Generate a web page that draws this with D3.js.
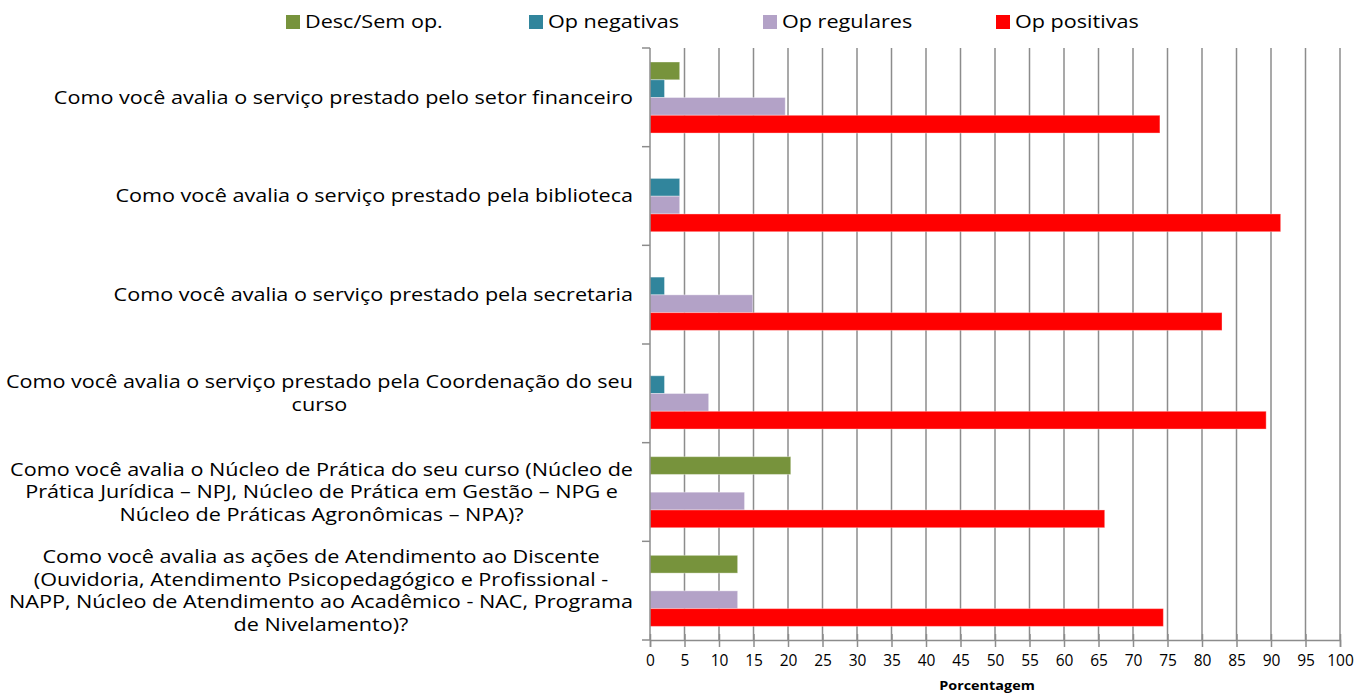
<!DOCTYPE html>
<html>
<head>
<meta charset="utf-8">
<script src="https://cdn.jsdelivr.net/npm/d3@7"></script>
<style>
  body { margin: 0; background: #fff; }
  text { font-family: "Open Sans", sans-serif; fill: #000; }
</style>
</head>
<body>
<svg id="chart"></svg>
<script>
// categories (each one already split into the lines shown on the chart)
const categories = [
  ["Como você avalia o serviço prestado pelo setor financeiro"],
  ["Como você avalia o serviço prestado pela biblioteca"],
  ["Como você avalia o serviço prestado pela secretaria"],
  ["Como você avalia o serviço prestado pela Coordenação do seu", "curso"],
  ["Como você avalia o Núcleo de Prática do seu curso (Núcleo de",
   "Prática Jurídica – NPJ, Núcleo de Prática em Gestão – NPG e",
   "Núcleo de Práticas Agronômicas – NPA)?"],
  ["Como você avalia as ações de Atendimento ao Discente",
   "(Ouvidoria, Atendimento Psicopedagógico e Profissional -",
   "NAPP, Núcleo de Atendimento ao Acadêmico - NAC, Programa",
   "de Nivelamento)?"]
];
const seriesNames = ["Desc/Sem op.", "Op negativas", "Op regulares", "Op positivas"];
const descSemOp   = [4.3, 0, 0, 0, 20.4, 12.7];
const opNegativas = [2.1, 4.3, 2.1, 2.1, 0, 0];
const opRegulares = [19.6, 4.3, 14.9, 8.5, 13.7, 12.7];
const opPositivas = [73.9, 91.4, 82.9, 89.3, 65.9, 74.4];
const xTicks = d3.range(0, 101, 5);
const xTitle = "Porcentagem";

const colors = ["#77933c", "#31859c", "#b3a2c7", "#ff0000"];
const seriesValues = [descSemOp, opNegativas, opRegulares, opPositivas];

const width = 1370, height = 695;
const margin = { top: 48, right: 30, bottom: 55, left: 650 };
const stretch = 1.2; // the original text is drawn a bit wider than normal

const svg = d3.select('#chart')
  .attr('width', width)
  .attr('height', height);

// scales
const x = d3.scaleLinear()
  .domain([0, 100])
  .range([margin.left, width - margin.right]);

const y0 = d3.scaleBand()
  .domain(d3.range(categories.length))
  .range([margin.top, height - margin.bottom]);

const y1 = d3.scaleBand()
  .domain(seriesNames)
  .range([y0.bandwidth() * 0.142, y0.bandwidth() * 0.862]);

// vertical gridlines
svg.append('g')
  .selectAll('line')
  .data(xTicks.slice(1))
  .enter()
  .append('line')
  .attr('x1', d => x(d)).attr('x2', d => x(d))
  .attr('y1', margin.top).attr('y2', height - margin.bottom)
  .attr('stroke', '#8c8c8c')
  .attr('stroke-width', 1.5);

// bars
const groups = svg.append('g')
  .selectAll('g')
  .data(categories)
  .enter()
  .append('g')
  .attr('transform', (d, i) => `translate(0, ${y0(i)})`);

groups.selectAll('rect')
  .data((d, i) => seriesNames.map((s, k) => ({ s, k, v: seriesValues[k][i] })))
  .enter()
  .append('rect')
  .filter(d => d.v > 0)
  .attr('x', x(0))
  .attr('y', d => y1(d.s))
  .attr('width', d => x(d.v) - x(0))
  .attr('height', y1.bandwidth())
  .attr('fill', d => colors[d.k])
  .attr('stroke', '#fff')
  .attr('stroke-opacity', 0.35)
  .attr('stroke-width', 1);

// x axis
const xAxis = d3.axisBottom(x)
  .tickValues(xTicks)
  .tickSize(7)
  .tickPadding(8);

const gx = svg.append('g')
  .attr('transform', `translate(0, ${height - margin.bottom})`)
  .call(xAxis);
gx.select('.domain').attr('stroke', '#8c8c8c').attr('stroke-width', 1.5);
gx.selectAll('.tick line').attr('stroke', '#8c8c8c').attr('stroke-width', 1.5).attr('y1', -6);
gx.selectAll('.tick text')
  .style('font-family', '"Open Sans", sans-serif')
  .style('font-size', '15.5px')
  .attr('fill', '#000');

svg.append('text')
  .attr('transform', `translate(${(x(0) + x(100)) / 2 - 8}, ${height - 5}) scale(${stretch}, 1)`)
  .attr('text-anchor', 'middle')
  .style('font-size', '12px')
  .style('font-weight', 'bold')
  .text(xTitle);

// y axis line and ticks at category boundaries
svg.append('line')
  .attr('x1', x(0)).attr('x2', x(0))
  .attr('y1', margin.top).attr('y2', height - margin.bottom)
  .attr('stroke', '#8c8c8c').attr('stroke-width', 1.5);

svg.append('g')
  .selectAll('line')
  .data(d3.range(categories.length + 1))
  .enter()
  .append('line')
  .attr('x1', x(0) - 8).attr('x2', x(0))
  .attr('y1', i => i < categories.length ? y0(i) : y0.range()[1])
  .attr('y2', i => i < categories.length ? y0(i) : y0.range()[1])
  .attr('stroke', '#8c8c8c').attr('stroke-width', 1.5);

// category labels (centred block, right edge near the axis)
const lineHeight = 22.5;
const labelRight = 633;
const labels = svg.append('g')
  .selectAll('text')
  .data(categories)
  .enter()
  .append('text')
  .style('font-size', '18px')
  .attr('text-anchor', 'middle')
  .attr('transform', `translate(${labelRight}, 0) scale(${stretch}, 1)`);

labels.each(function (lines, i) {
  const t = d3.select(this);
  const cy = y0(i) + y0.bandwidth() / 2;
  const firstY = cy - (lines.length - 1) * lineHeight / 2;
  lines.forEach((l, j) => {
    t.append('tspan')
      .attr('y', firstY + j * lineHeight)
      .attr('dy', '0.35em')
      .text(l);
  });
  // block width = widest line; centre the block so its right edge sits on labelRight
  const w = d3.max(t.selectAll('tspan').nodes(), n => n.getComputedTextLength());
  t.selectAll('tspan').attr('x', -w / 2);
});

// legend
const legendX = [286, 529, 763, 996];
const legend = svg.append('g')
  .selectAll('g')
  .data(seriesNames)
  .enter()
  .append('g')
  .attr('transform', (d, i) => `translate(${legendX[i]}, 22)`);

legend.append('rect')
  .attr('x', 0).attr('y', -7)
  .attr('width', 14).attr('height', 14)
  .attr('fill', (d, i) => colors[i]);

legend.append('text')
  .attr('transform', `translate(19, 0) scale(${stretch}, 1)`)
  .attr('dy', '0.35em')
  .style('font-size', '18px')
  .text(d => d);
</script>
</body>
</html>
